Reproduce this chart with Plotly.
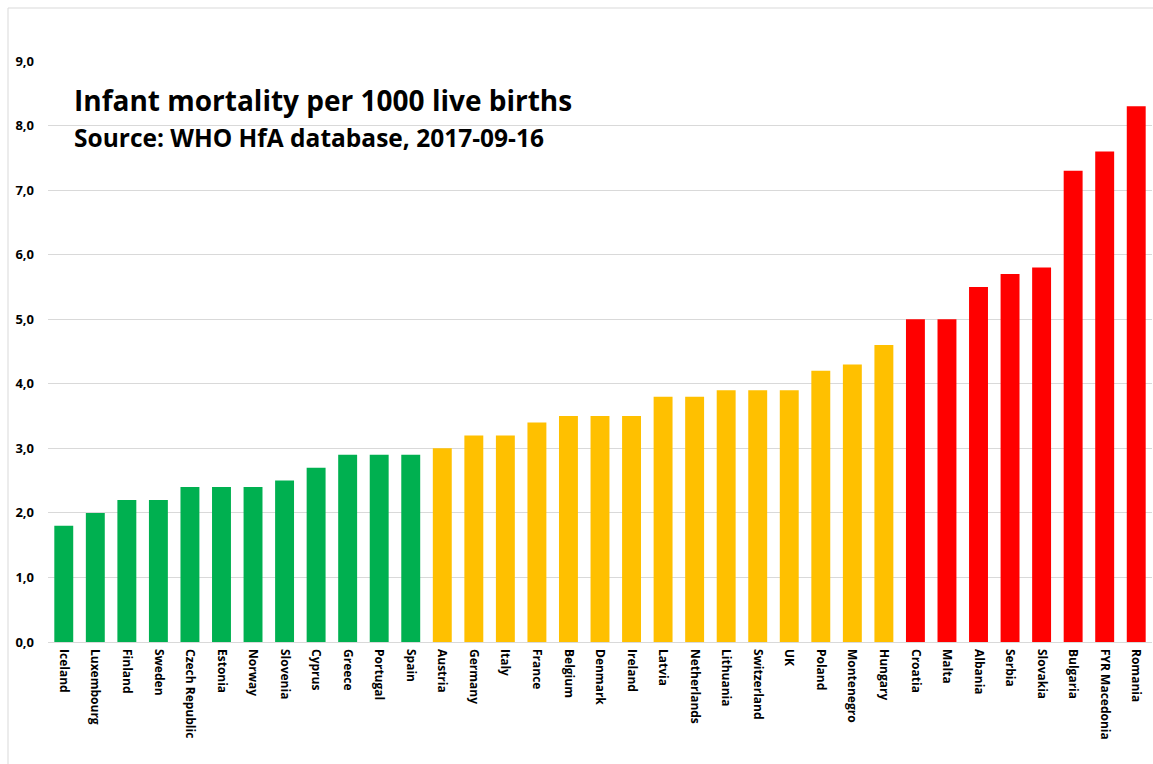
import plotly.graph_objects as go

countries = ["Iceland", "Luxembourg", "Finland", "Sweden", "Czech Republic", "Estonia", "Norway",
             "Slovenia", "Cyprus", "Greece", "Portugal", "Spain",
             "Austria", "Germany", "Italy", "France", "Belgium", "Denmark", "Ireland", "Latvia",
             "Netherlands", "Lithuania", "Switzerland", "UK", "Poland", "Montenegro", "Hungary",
             "Croatia", "Malta", "Albania", "Serbia", "Slovakia", "Bulgaria", "FYR Macedonia", "Romania"]
values = [1.8, 2.0, 2.2, 2.2, 2.4, 2.4, 2.4, 2.5, 2.7, 2.9, 2.9, 2.9,
          3.0, 3.2, 3.2, 3.4, 3.5, 3.5, 3.5, 3.8, 3.8, 3.9, 3.9, 3.9, 4.2, 4.3, 4.6,
          5.0, 5.0, 5.5, 5.7, 5.8, 7.3, 7.6, 8.3]
groups = ["low"] * 12 + ["mid"] * 15 + ["high"] * 8
group_colors = {"low": "#00B050", "mid": "#FFC000", "high": "#FF0000"}
colors = [group_colors[g] for g in groups]

title_text = "Infant mortality per 1000 live births"
subtitle_text = "Source: WHO HfA database, 2017-09-16"

W, H = 1153, 764
ML, MR, MT, MB = 48, 1, 61, 122
pw = W - ML - MR
ph = H - MT - MB


def px_x(x):
    return (x - ML) / pw


def px_y(y):
    return (H - y - MB) / ph


fig = go.Figure(go.Bar(x=countries, y=values, marker=dict(color=colors, line=dict(width=0)),
                       width=0.6))

font_family = "Open Sans, Lato, sans-serif"
fig.update_layout(
    width=W, height=H,
    margin=dict(l=ML, r=MR, t=MT, b=MB),
    plot_bgcolor="white", paper_bgcolor="white",
    separators=",.",
    showlegend=False,
    xaxis=dict(tickangle=90,
               tickfont=dict(family=font_family, size=12, color="black", weight="bold"),
               showgrid=False, showline=False, ticks="", ticklabelstandoff=6),
    yaxis=dict(range=[0, 9], tickvals=[0, 1, 2, 3, 4, 5, 6, 7, 8, 9], tickformat=".1f",
               tickfont=dict(family=font_family, size=13, color="black", weight="bold"),
               showgrid=True, gridcolor="#D9D9D9", gridwidth=1, zeroline=True,
               zerolinecolor="#D9D9D9", zerolinewidth=1, ticks="", showline=False,
               ticklabelstandoff=13),
    annotations=[
        dict(text="<b>" + title_text + "</b>", x=px_x(72), y=px_y(100), xref="paper", yref="paper",
             showarrow=False, xanchor="left", yanchor="middle",
             font=dict(family=font_family, size=28, color="black")),
        dict(text="<b>" + subtitle_text + "</b>", x=px_x(72), y=px_y(137), xref="paper", yref="paper",
             showarrow=False, xanchor="left", yanchor="middle",
             font=dict(family=font_family, size=24.5, color="black")),
    ],
)

# chart border (left and top)
fig.add_shape(type="line", xref="paper", yref="paper",
              x0=px_x(8), x1=px_x(W), y0=px_y(8), y1=px_y(8),
              line=dict(color="#D9D9D9", width=1))
fig.add_shape(type="line", xref="paper", yref="paper",
              x0=px_x(8), x1=px_x(8), y0=px_y(8), y1=px_y(H),
              line=dict(color="#D9D9D9", width=1))

fig.write_html("out.html", config={"displayModeBar": False},
               post_script="document.body.style.margin='0';document.body.style.overflow='hidden';")
